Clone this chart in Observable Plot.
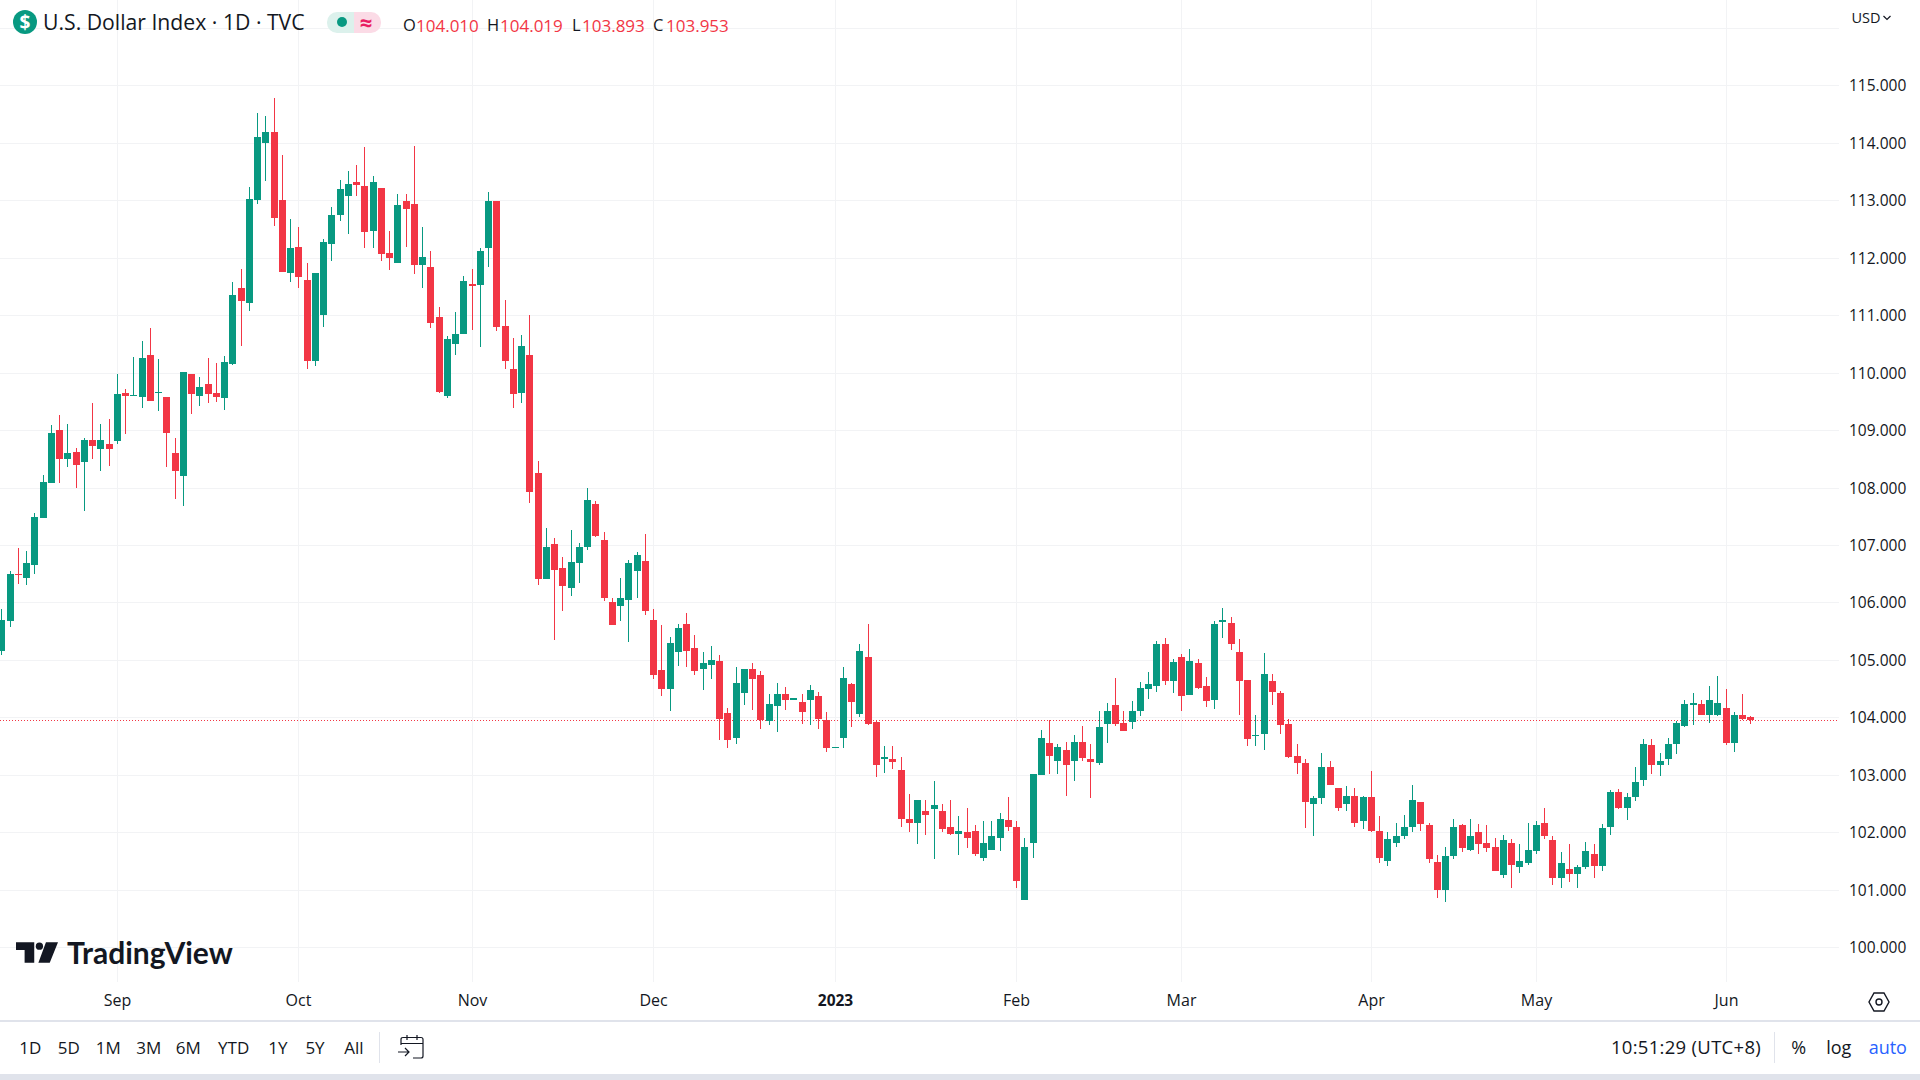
<!DOCTYPE html>
<html><head><meta charset="utf-8">
<script src="https://cdn.jsdelivr.net/npm/d3@7"></script>
<script src="https://cdn.jsdelivr.net/npm/@observablehq/plot@0.6"></script>
<style>
html,body{margin:0;padding:0;background:#fff;overflow:hidden;width:1920px;height:1080px}
#wrap{position:relative;width:1920px;height:1080px;overflow:hidden;font-family:"Open Sans",sans-serif;color:#131722}
#chart{position:absolute;left:0;top:0}
.t{position:absolute;white-space:nowrap;line-height:1;transform:translate(-50%,-50%)}
.l{position:absolute;white-space:nowrap;line-height:1;transform:translateY(-50%)}
.box{position:absolute}
</style></head><body>
<div id="wrap"><div id="chart"></div></div>
<script>
const opens=[105.15,105.67,106.49,106.43,106.65,107.47,108.08,109.00,108.49,108.62,
108.44,108.83,108.67,108.76,108.81,109.64,109.59,109.57,110.30,109.64,
109.57,108.60,108.20,109.97,109.59,109.80,109.64,109.56,110.15,111.47,
111.21,113.00,113.99,114.19,113.00,111.73,112.18,111.61,110.21,111.01,
112.23,112.74,113.07,113.31,113.24,112.46,113.22,112.08,111.90,112.99,
112.94,111.87,111.83,110.96,109.60,110.49,110.67,111.55,111.52,112.16,
112.98,110.81,110.06,109.64,110.30,108.25,106.40,107.02,106.60,106.26,
106.68,106.96,107.71,107.08,106.00,105.94,106.05,106.55,106.73,105.70,
104.83,104.50,105.14,105.63,105.21,104.85,104.92,104.99,104.08,103.65,
104.43,104.85,104.73,103.94,104.20,104.40,104.31,104.27,104.31,104.38,
103.96,103.47,103.65,104.59,104.06,105.06,103.92,103.27,103.27,103.08,
102.23,102.17,102.38,102.40,102.38,102.09,101.98,102.00,102.02,101.56,
101.70,101.91,102.21,102.10,100.83,101.82,102.99,103.55,103.25,103.44,
103.25,103.58,103.27,103.20,103.88,104.21,103.90,103.92,104.12,104.49,
104.54,105.27,104.63,105.05,104.39,104.94,104.54,104.30,105.66,105.64,
105.13,104.65,103.67,103.72,104.63,104.42,103.88,103.32,103.20,102.49,
102.59,103.13,102.77,102.49,102.63,102.19,102.61,102.02,101.51,101.82,
101.93,102.09,102.52,102.13,101.48,100.99,101.58,102.12,101.70,102.00,
101.81,101.74,101.25,101.82,101.39,101.46,101.67,102.16,101.86,101.20,
101.36,101.27,101.39,101.63,101.41,102.09,102.71,102.42,102.61,102.91,
103.52,103.18,103.27,103.53,103.85,104.21,104.23,104.05,104.05,104.16,
103.55,104.05,104.010];
const closes=[105.69,106.50,106.47,106.68,107.49,108.09,108.95,108.49,108.60,108.39,
108.83,108.72,108.83,108.67,109.63,109.59,109.61,110.25,109.50,109.66,
108.95,108.29,110.01,109.63,109.75,109.63,109.57,110.18,111.35,111.24,
113.02,114.10,114.19,112.69,111.75,112.17,111.66,110.20,111.74,112.27,
112.75,113.19,113.29,113.26,112.44,113.31,112.06,111.99,112.91,112.84,
111.87,112.01,110.87,109.67,110.58,110.68,111.59,111.50,112.12,112.98,
110.79,110.21,109.62,110.46,107.92,106.40,106.96,106.56,106.28,106.70,
106.97,107.78,107.15,106.08,105.61,106.07,106.68,106.83,105.86,104.73,
104.50,105.30,105.56,105.16,104.80,104.94,105.00,103.98,103.60,104.60,
104.85,104.66,103.96,104.24,104.40,104.31,104.33,104.10,104.47,103.98,
103.47,103.49,104.69,104.26,105.16,103.89,103.17,103.31,103.22,102.24,
102.17,102.57,102.31,102.47,102.05,101.98,102.03,101.91,101.63,101.82,
101.93,102.24,102.09,101.16,101.75,103.01,103.64,103.32,103.48,103.18,
103.58,103.29,103.22,103.83,104.11,103.88,103.76,104.11,104.51,104.59,
105.27,104.63,104.96,104.37,104.98,104.52,104.28,105.62,105.69,105.27,
104.63,103.62,103.69,104.75,104.44,103.86,103.31,103.20,102.52,102.59,
103.13,102.82,102.42,102.64,102.17,102.61,102.03,101.56,101.89,101.93,
102.10,102.56,102.14,101.53,100.99,101.58,102.10,101.72,101.94,101.79,
101.72,101.32,101.86,101.44,101.50,101.69,102.12,101.93,101.21,101.46,
101.27,101.39,101.67,101.41,102.07,102.71,102.42,102.61,102.87,103.53,
103.18,103.25,103.53,103.90,104.23,104.25,104.04,104.31,104.25,103.55,
104.05,103.98,103.953];
const highs=[105.89,106.55,106.95,106.90,107.55,108.22,109.09,109.26,109.10,108.69,
108.86,109.47,109.10,109.19,109.97,109.71,110.27,110.55,110.77,110.23,
109.57,108.86,110.01,109.97,109.92,110.25,110.17,110.29,111.57,111.80,
113.23,114.52,114.46,114.78,113.78,112.67,112.54,111.90,111.74,112.32,
112.89,113.35,113.50,113.61,113.92,113.43,113.22,112.46,113.10,113.10,
113.95,112.54,112.12,111.14,110.63,111.05,111.68,111.80,112.16,113.15,
112.99,111.27,110.61,110.65,111.00,108.46,107.29,107.12,106.79,107.26,
107.04,108.00,107.76,107.23,106.07,106.43,106.74,106.88,107.20,105.89,
105.60,105.40,105.63,105.82,105.44,105.14,105.25,105.09,104.17,104.88,
104.85,104.94,104.80,104.40,104.60,104.53,104.33,104.40,104.57,104.45,
104.10,103.49,104.87,104.60,105.28,105.63,103.96,103.50,103.50,103.31,
102.66,102.57,102.57,102.90,102.49,102.56,102.28,102.43,102.12,102.19,
102.19,102.33,102.61,102.19,101.91,103.01,103.78,103.96,103.53,103.57,
103.69,103.85,103.53,104.12,104.25,104.68,104.11,104.28,104.61,104.79,
105.33,105.38,105.01,105.10,105.19,105.01,104.70,105.67,105.90,105.74,
105.36,104.65,104.05,105.12,104.75,104.46,103.97,103.53,103.27,102.64,
103.38,103.24,102.77,102.80,102.78,102.64,103.06,102.28,102.00,102.16,
102.31,102.82,102.52,102.17,101.60,101.75,102.24,102.15,102.24,102.14,
102.12,101.91,101.96,101.89,101.80,102.17,102.19,102.42,101.93,101.65,
101.79,101.43,101.84,101.80,102.15,102.73,102.76,102.69,103.13,103.63,
103.63,103.38,103.65,103.93,104.31,104.43,104.31,104.54,104.72,104.50,
104.09,104.41,104.019];
const lows=[105.09,105.57,106.33,106.31,106.49,107.47,108.08,108.08,108.36,107.99,
107.59,108.49,108.29,108.37,108.76,108.93,109.59,109.38,109.50,109.33,
108.36,107.80,107.68,109.28,109.42,109.47,109.49,109.35,110.13,110.46,
111.07,112.93,113.33,112.55,111.75,111.57,111.48,110.06,110.11,110.79,
111.95,112.63,112.42,113.07,112.16,112.16,111.94,111.78,111.90,112.18,
111.71,111.48,110.77,109.64,109.56,110.30,110.67,110.74,110.44,111.83,
110.72,110.06,109.38,109.47,107.73,106.30,106.40,105.35,105.86,106.11,
106.34,106.91,107.14,106.03,105.61,105.68,105.32,106.07,105.79,104.67,
104.38,104.12,104.90,104.88,104.73,104.48,104.67,103.60,103.46,103.54,
104.22,104.13,103.79,103.86,103.75,104.13,104.31,103.89,103.86,103.79,
103.40,103.47,103.47,103.84,104.00,103.87,102.96,103.04,103.11,102.09,
102.00,101.79,101.95,101.53,102.00,101.95,101.60,101.72,101.58,101.51,
101.69,101.67,102.02,101.04,100.83,101.55,102.99,103.01,103.01,102.64,
102.90,103.25,102.59,103.17,103.55,103.85,103.76,103.79,104.02,104.32,
104.44,104.56,104.42,104.11,104.39,104.49,104.18,104.14,105.38,105.17,
104.05,103.50,103.51,103.44,104.21,103.71,103.29,103.01,102.07,101.93,
102.50,102.82,102.38,102.38,102.09,102.05,102.00,101.46,101.42,101.75,
101.89,102.00,102.02,101.46,100.85,100.79,101.54,101.65,101.67,101.63,
101.65,101.32,101.21,101.03,101.29,101.43,101.63,101.89,101.08,101.04,
101.13,101.04,101.37,101.21,101.32,101.95,102.40,102.21,102.54,102.80,
103.01,102.98,103.17,103.36,103.83,103.86,104.04,103.90,104.02,103.52,
103.39,103.95,103.893];
const monthBars=[14,36,57,79,101,123,143,166,186,209];
const monthLabels=["Sep","Oct","Nov","Dec","2023","Feb","Mar","Apr","May","Jun"];
const gridPrices=[100,101,102,103,104,105,106,107,108,109,110,111,112,113,114,115,116];
const priceTicks=[100,101,102,103,104,105,106,107,108,109,110,111,112,113,114,115];
const lastClose=103.953;
const GREEN="#089981",RED="#f23645";
const FONT='"Open Sans",sans-serif';

const bars=opens.map((o,i)=>({i,open:o,close:closes[i],high:highs[i],low:lows[i],color:closes[i]>=o?GREEN:RED}));
const months=monthBars.map((b,i)=>({bar:b,label:monthLabels[i]}));

const plot=Plot.plot({
  width:1920,height:1020,marginLeft:0,marginRight:81,marginTop:0,marginBottom:38,
  style:{background:"transparent",fontFamily:FONT,overflow:"visible"},
  x:{type:"linear",domain:[-0.1697,222.75],round:true},
  y:{domain:[99.396,116.484],round:true},
  marks:[
    Plot.ruleY(gridPrices,{stroke:"#f2f3f5",strokeWidth:1}),
    Plot.ruleX(monthBars,{stroke:"#f2f3f5",strokeWidth:1}),
    Plot.ruleY([lastClose],{stroke:RED,strokeWidth:1,strokeDasharray:"1,2"}),
    Plot.ruleX(bars,{x:"i",y1:"low",y2:"high",stroke:"color",strokeWidth:1}),
    Plot.ruleX(bars,{x:"i",y1:"open",y2:"close",stroke:"color",strokeWidth:7}),
    Plot.axisY({anchor:"right",ticks:priceTicks,tickSize:0,tickPadding:9.5,tickFormat:d=>d.toFixed(3),fontSize:15.5,dy:1,fill:"#131722",label:null}),
    Plot.axisX({ticks:[],label:null}),
    Plot.text(months.filter(d=>d.label!=="2023"),{x:"bar",text:"label",frameAnchor:"bottom",dy:23.5,fontSize:16,fill:"#131722"}),
    Plot.text(months.filter(d=>d.label==="2023"),{x:"bar",text:"label",frameAnchor:"bottom",dy:23.5,fontSize:15.5,fontWeight:700,fill:"#131722"})
  ]
});
document.getElementById("chart").appendChild(plot);

const wrap=document.getElementById("wrap");
function box(x,y,w,h,bg,extra){const d=document.createElement("div");d.className="box";d.style.cssText=`left:${x}px;top:${y}px;width:${w}px;height:${h}px;background:${bg};${extra||""}`;wrap.appendChild(d);return d}
function txt(s,x,y,size,color,cls,extra){const d=document.createElement("div");d.className=cls||"t";d.textContent=s;d.style.cssText=`left:${x}px;top:${y}px;font-size:${size}px;color:${color||"#131722"};${extra||""}`;wrap.appendChild(d);return d}

// header
box(13,10,24,24,GREEN,"border-radius:50%");
txt("$",25,22,19,"#fff","t","font-weight:700");
txt("U.S. Dollar Index · 1D · TVC",43,22,21.2,"#131722","l");
box(327,12,27,21,"#dcf1ec","border-radius:10px 0 0 10px");
box(354,12,27,21,"#fbdbe6","border-radius:0 10px 10px 0");
box(336.5,17,10,10,GREEN,"border-radius:50%");
txt("≈",366,22,22,"#e91e63","t","font-weight:700");
[["O","104.010",403],["H","104.019",487],["L","103.893",572],["C","103.953",653]].forEach(([k,v,x])=>{
  txt(k,x,24.5,16.5,"#131722","l");
  txt(v,x+(k==="L"?10:13),24.5,17,RED,"l");
});
txt("USD",1866,18,14.5,"#131722");
wrap.insertAdjacentHTML("beforeend",`<svg style="position:absolute;left:1883px;top:15px" width="8" height="6"><path d="M.5 1 L4 4.5 L7.5 1" fill="none" stroke="#131722" stroke-width="1.2"/></svg>`);

// logo
wrap.insertAdjacentHTML("beforeend",`<svg style="position:absolute;left:16px;top:942px" width="42" height="21" viewBox="0 0 122 59"><path d="M0 0H53V59H25V22H0Z M87 0H122L98 59H65Z" fill="#131722"/><circle cx="68" cy="11" r="10.5" fill="#131722"/></svg>`);
txt("TradingView",67,952,30,"#131722","l","font-family:Lato,sans-serif;font-weight:700");

// time axis bottom & toolbar
box(0,1020,1920,1.5,"#e0e3eb");
box(0,1074,1920,6,"#e0e3eb");
[["1D",30.3],["5D",68.7],["1M",108.3],["3M",148.7],["6M",188.3],["YTD",233.7],["1Y",277.8],["5Y",315],["All",354]].forEach(([s,x])=>txt(s,x,1047,17,"#131722"));
box(379,1032,1,31,"#e0e3eb");
box(1774,1032,1,31,"#e0e3eb");
wrap.insertAdjacentHTML("beforeend",`<svg style="position:absolute;left:398px;top:1034px" width="28" height="26" viewBox="0 0 28 26" fill="none" stroke="#131722" stroke-width="1.2"><path d="M3 11V5.5Q3 3.5 5 3.5H23Q25 3.5 25 5.5V22Q25 24 23 24H15"/><path d="M3 9.5H25M9 1V6M19 1V6"/><path d="M0 18H11M7 14L11 18L7 22"/></svg>`);
wrap.insertAdjacentHTML("beforeend",`<svg style="position:absolute;left:1868px;top:991px" width="22" height="22" viewBox="0 0 22 22" fill="none" stroke="#131722" stroke-width="1.4"><path d="M6 2H16L21 11L16 20H6L1 11Z"/><circle cx="11" cy="11" r="3"/></svg>`);
txt("10:51:29 (UTC+8)",1686,1047,18.5,"#131722","t","letter-spacing:.3px");
txt("%",1798.7,1047,18,"#131722");
txt("log",1838.8,1047,18,"#131722");
txt("auto",1887.8,1047,18,"#2962ff");
</script>
</body></html>
